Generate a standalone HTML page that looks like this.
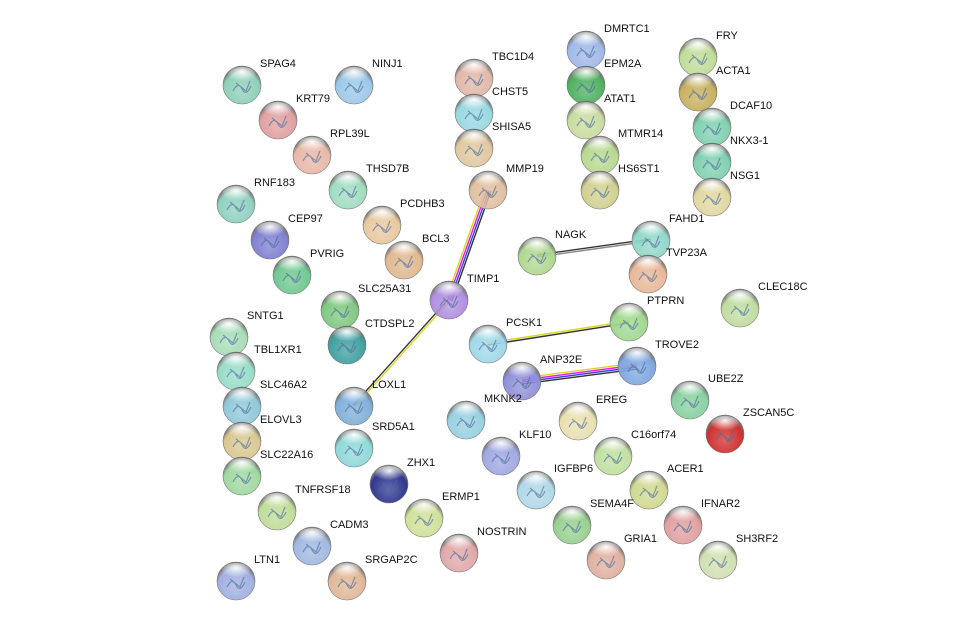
<!DOCTYPE html>
<html><head><meta charset="utf-8"><style>
html,body{margin:0;padding:0;background:#fff;}
svg{display:block;}
text{font-family:"Liberation Sans",sans-serif;font-size:11px;fill:#111;}
</style></head><body>
<svg id="net" width="976" height="627" viewBox="0 0 976 627" xmlns="http://www.w3.org/2000/svg">
<defs>
<radialGradient id="hl" cx="50%" cy="30%" r="60%"><stop offset="0" stop-color="#fff" stop-opacity="0.95"/><stop offset="1" stop-color="#fff" stop-opacity="0"/></radialGradient>
</defs>
<g id="edges"></g><g id="nodes"></g>
</svg>
<script>
const names=["SPAG4","NINJ1","KRT79","RPL39L","TBC1D4","CHST5","SHISA5","MMP19","DMRTC1","EPM2A","ATAT1","MTMR14","HS6ST1","FRY","ACTA1","DCAF10","NKX3-1","NSG1","RNF183","THSD7B","PCDHB3","CEP97","BCL3","PVRIG","NAGK","FAHD1","TVP23A","TIMP1","SLC25A31","CLEC18C","SNTG1","CTDSPL2","PTPRN","PCSK1","TBL1XR1","TROVE2","ANP32E","SLC46A2","LOXL1","UBE2Z","MKNK2","EREG","ZSCAN5C","ELOVL3","SRD5A1","KLF10","C16orf74","SLC22A16","ZHX1","IGFBP6","ACER1","TNFRSF18","ERMP1","SEMA4F","IFNAR2","CADM3","NOSTRIN","GRIA1","SH3RF2","LTN1","SRGAP2C"];
const xs=[242,354,278,312,474,474,474,488,586,586,586,600,600,698,698,712,712,712,236,348,382,270,404,292,537,651,648,449,340,740,229,347,629,488,236,637,522,242,354,690,466,578,725,242,354,501,613,242,389,536,649,277,424,572,683,312,459,606,718,236,347];
const ys=[85,85,120,155,78,113,148,190,50,85,120,155,190,57,92,127,162,197,204,190,225,240,260,275,256,240,274,300,310,308,337,345,322,344,371,366,381,406,406,400,420,421,434,441,448,456,456,476,484,490,490,511,518,525,525,546,553,560,560,581,581];
const colors=["#8fd0b8","#9cc8e8","#e0a0a0","#e8b8a8","#e0b8a8","#98d8e0","#e0c8a0","#e0c0a0","#a0b8e8","#50b060","#c8dca0","#b8d890","#d0d090","#c0dc98","#c8b060","#80d0b0","#80d0b0","#e0d8a0","#90d0c0","#a0dcc0","#e8c8a0","#8080d0","#e0b890","#70c890","#b0d890","#90d8c8","#e8b898","#b090e0","#80c880","#c0dca0","#a8dcb8","#40a0a0","#a0d890","#a0d8e8","#98dcc8","#80a8e0","#9090d8","#90c8d8","#80b0d8","#88d0a0","#98d0e0","#e8e0b0","#d03030","#d8c890","#90d8d8","#a0a8e0","#c0e0a0","#a0d8a0","#303890","#b0d8e8","#d0d890","#c0dc98","#d0e098","#98d090","#e0a0a0","#a0b8e0","#e0a8a8","#e0b0a0","#d0e0b0","#a0b0e0","#e0b898"];
const edgeFrom=["TIMP1","TIMP1","NAGK","PCSK1","ANP32E"];
const edgeTo=["MMP19","LOXL1","FAHD1","PTPRN","TROVE2"];
const edgeColors=[["#d8d820","#e020e0","#4040e0","#333"],["#d8d820","#333"],["#333","#888"],["#d8d820","#333"],["#d8d820","#e020e0","#4040e0","#333"]];
const NS="http://www.w3.org/2000/svg";
const eg=document.getElementById('edges'),ng=document.getElementById('nodes');
const defs=document.querySelector('defs');
function idx(n){return names.indexOf(n);}
edgeFrom.forEach((f,i)=>{
 const a=idx(f),b=idx(edgeTo[i]);
 const dx=xs[b]-xs[a],dy=ys[b]-ys[a],L=Math.hypot(dx,dy),px=-dy/L,py=dx/L;
 const cs=edgeColors[i],n=cs.length;
 cs.forEach((c,k)=>{
  const o=(k-(n-1)/2)*2;
  const l=document.createElementNS(NS,'line');
  
  
  l.setAttribute('x1',xs[a]+px*o);l.setAttribute('y1',ys[a]+py*o);
  l.setAttribute('x2',xs[b]+px*o);l.setAttribute('y2',ys[b]+py*o);
  l.setAttribute('stroke',c);l.setAttribute('stroke-width',1.4);
  eg.appendChild(l);
 });
});
names.forEach((n,i)=>{
 const gid='g'+i;
 const rg=document.createElementNS(NS,'radialGradient');
 rg.setAttribute('id',gid);rg.setAttribute('cx','50%');rg.setAttribute('cy','65%');rg.setAttribute('r','60%');
 rg.innerHTML='<stop offset="0" stop-color="'+colors[i]+'" stop-opacity="0.75"/><stop offset="0.8" stop-color="'+colors[i]+'"/><stop offset="1" stop-color="#555" stop-opacity="0.8"/>';
 defs.appendChild(rg);
 const g=document.createElementNS(NS,'g');
 
 
 const c=document.createElementNS(NS,'circle');
 c.setAttribute('cx',xs[i]);c.setAttribute('cy',ys[i]);c.setAttribute('r',19);
 c.setAttribute('fill','url(#'+gid+')');c.setAttribute('stroke','#777');c.setAttribute('stroke-width',0.6);
 g.appendChild(c);
 const s=document.createElementNS(NS,'path');
 s.setAttribute('d','M'+(xs[i]-9)+' '+(ys[i]+6)+' q5 -10 9 -2 t9 -3 M'+(xs[i]-6)+' '+(ys[i]-2)+' l10 8 l4 -10');
 s.setAttribute('stroke','#4a6a9a');s.setAttribute('fill','none');s.setAttribute('stroke-width',1.2);s.setAttribute('opacity',0.6);
 g.appendChild(s);
 const h=document.createElementNS(NS,'ellipse');
 h.setAttribute('cx',xs[i]);h.setAttribute('cy',ys[i]-10);h.setAttribute('rx',14);h.setAttribute('ry',8);
 h.setAttribute('fill','url(#hl)');
 g.appendChild(h);
 const t=document.createElementNS(NS,'text');
 
 
 t.setAttribute('x',xs[i]+18);t.setAttribute('y',ys[i]-18);
 t.textContent=n;
 g.appendChild(t);
 ng.appendChild(g);
});
</script>
</body></html>
